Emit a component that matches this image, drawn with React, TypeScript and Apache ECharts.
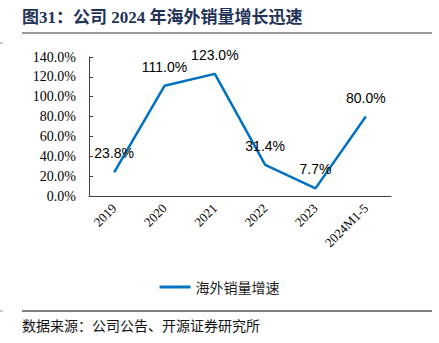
import React, { useEffect, useRef } from "react";
import * as echarts from "echarts";

const categories = ["2019", "2020", "2021", "2022", "2023", "2024M1-5"];
const overseasGrowth = [23.8, 111.0, 123.0, 31.4, 7.7, 80.0];
const seriesName = "海外销量增速";
const titleText = "图31：公司 2024 年海外销量增长迅速";
const sourceText = "数据来源：公司公告、开源证券研究所";

export default function App() {
  const ref = useRef<HTMLDivElement>(null);
  useEffect(() => {
    const chart = echarts.init(ref.current!, null, { renderer: "svg" });
    chart.setOption({
      animation: false,
      backgroundColor: "#ffffff",
      grid: { left: 89, right: 48, top: 57, bottom: 147, containLabel: false },
      legend: {
        data: [seriesName],
        left: "center",
        top: 275,
        icon: "rect",
        itemWidth: 31,
        itemHeight: 3,
        itemGap: 5,
        textStyle: { fontSize: 14, color: "#222", fontFamily: "Noto Sans CJK SC" },
      },
      xAxis: {
        type: "category",
        data: categories,
        boundaryGap: true,
        axisLine: { lineStyle: { color: "#404040", width: 1 } },
        axisTick: { inside: true, length: 4, lineStyle: { color: "#404040" } },
        axisLabel: {
          rotate: 45,
          margin: 10,
          fontSize: 13,
          color: "#000",
          fontFamily: "Liberation Serif, Times New Roman, serif",
          interval: 0,
        },
      },
      yAxis: {
        type: "value",
        min: 0,
        max: 140,
        interval: 20,
        splitLine: { show: false },
        axisLine: { show: true, lineStyle: { color: "#404040", width: 1 } },
        axisTick: { show: true, inside: true, length: 4, lineStyle: { color: "#404040" } },
        axisLabel: {
          margin: 13,
          fontSize: 14,
          color: "#000",
          fontFamily: "Liberation Serif, Times New Roman, serif",
          formatter: (v: number) => v.toFixed(1) + "%",
        },
      },
      series: [
        {
          name: seriesName,
          type: "line",
          data: overseasGrowth,
          symbol: "circle",
          symbolSize: 0,
          lineStyle: { color: "#0070C0", width: 2.5 },
          itemStyle: { color: "#0070C0" },
          label: {
            show: true,
            position: "top",
            distance: 12,
            fontSize: 14,
            color: "#000",
            fontFamily: "Liberation Sans, Arial, sans-serif",
            formatter: (p: any) => Number(p.value).toFixed(1) + "%",
          },
        },
      ],
      graphic: [
        {
          type: "text",
          left: 22,
          top: 9,
          style: {
            text: titleText,
            font: "bold 17px 'Liberation Serif', 'Noto Sans CJK SC', serif",
            fill: "#1F3356",
          },
        },
        {
          type: "line",
          shape: { x1: 22, y1: 33, x2: 432, y2: 33 },
          style: { stroke: "#9a9a9a", lineWidth: 2 },
        },
        {
          type: "line",
          shape: { x1: 22, y1: 311, x2: 432, y2: 311 },
          style: { stroke: "#000", lineWidth: 1 },
        },
        {
          type: "line",
          shape: { x1: 0, y1: 43, x2: 3, y2: 43 },
          style: { stroke: "#9a9a9a", lineWidth: 1 },
        },
        {
          type: "line",
          shape: { x1: 0, y1: 311, x2: 3, y2: 311 },
          style: { stroke: "#9a9a9a", lineWidth: 1 },
        },
        {
          type: "text",
          left: 22,
          top: 318,
          style: {
            text: sourceText,
            font: "14px 'Noto Sans CJK SC', sans-serif",
            fill: "#111",
          },
        },
      ],
    });
    return () => chart.dispose();
  }, []);
  return (
    <div
      ref={ref}
      style={{ position: "absolute", left: 0, top: 0, width: 439, height: 343 }}
    />
  );
}
